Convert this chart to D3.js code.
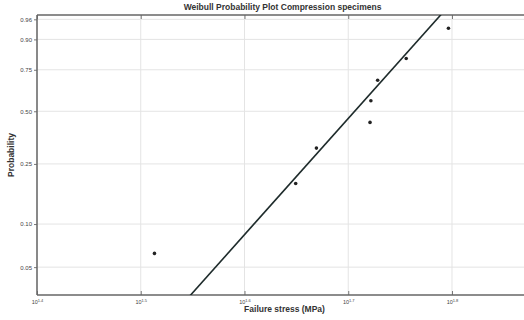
<!DOCTYPE html>
<html>
<head>
<meta charset="utf-8">
<script src="https://cdn.jsdelivr.net/npm/d3@7"></script>
<style>
  body { margin: 0; background: #fff; }
  svg { font-family: "Liberation Sans", Arial, sans-serif; }
</style>
</head>
<body>
<svg id="chart" width="524" height="320"></svg>
<script>
// measured failure stress (MPa) and plotting-position probabilities
const stress = [32.6, 44.6, 46.7, 52.6, 52.7, 53.5, 57.0, 62.6];
const probability = [0.0625, 0.1875, 0.3125, 0.4375, 0.5625, 0.6875, 0.8125, 0.9375];
const yTicks = [0.05, 0.10, 0.25, 0.50, 0.75, 0.90, 0.96];
const xTickExponents = [1.4, 1.5, 1.6, 1.7, 1.8];
// fitted Weibull line
const fitShape = 8.43;
const fitScale = 53.1;

const width = 524, height = 320;
const margin = { top: 15, right: 0, bottom: 25, left: 37 };
const svg = d3.select('#chart');

// weibull transform for the probability axis
const wb = p => Math.log(-Math.log(1 - p));

const x = d3.scaleLog()
  .domain([Math.pow(10, 1.4), Math.pow(10, 1.8694)])
  .range([margin.left, width - margin.right]);

const y = d3.scaleLinear()
  .domain([wb(0.0317), wb(0.9686)])
  .range([height - margin.bottom, margin.top]);

const plot = svg.append('g');

// grid
plot.append('g').selectAll('line')
  .data(xTickExponents)
  .enter().append('line')
  .attr('x1', d => x(Math.pow(10, d))).attr('x2', d => x(Math.pow(10, d)))
  .attr('y1', margin.top).attr('y2', height - margin.bottom)
  .attr('stroke', '#e4e4e4').attr('stroke-width', 1);

plot.append('g').selectAll('line')
  .data(yTicks)
  .enter().append('line')
  .attr('x1', margin.left).attr('x2', width)
  .attr('y1', d => y(wb(d))).attr('y2', d => y(wb(d)))
  .attr('stroke', '#e4e4e4').attr('stroke-width', 1);

// axes
const yAxis = d3.axisLeft(y)
  .tickValues(yTicks.map(wb))
  .tickFormat((d, i) => yTicks[i].toFixed(2))
  .tickSize(3);

const gy = svg.append('g')
  .attr('transform', `translate(${margin.left},0)`)
  .call(yAxis);
gy.select('.domain').remove();
gy.selectAll('.tick line').attr('stroke', '#777');
gy.selectAll('text').attr('font-size', 6).attr('fill', '#444').attr('x', -5);

const xAxis = d3.axisBottom(x)
  .tickValues(xTickExponents.map(e => Math.pow(10, e)))
  .tickFormat('')
  .tickSize(-4);

const gx = svg.append('g')
  .attr('transform', `translate(0,${height - margin.bottom})`)
  .call(xAxis);
gx.select('.domain').remove();
gx.selectAll('.tick line').attr('stroke', '#777');
gx.selectAll('.tick').append('text')
  .attr('y', 9).attr('text-anchor', 'middle').attr('fill', '#444')
  .attr('font-size', 5.5)
  .each(function (d, i) {
    const t = d3.select(this);
    t.append('tspan').text('10');
    t.append('tspan').attr('dy', -2.5).attr('font-size', 4).text(xTickExponents[i].toFixed(1));
  });

const gxTop = svg.append('g')
  .attr('transform', `translate(0,${margin.top})`)
  .call(d3.axisTop(x).tickValues(xTickExponents.map(e => Math.pow(10, e))).tickFormat('').tickSize(-4));
gxTop.select('.domain').remove();
gxTop.selectAll('.tick line').attr('stroke', '#777');

// frame lines
svg.append('line')
  .attr('x1', margin.left).attr('x2', width)
  .attr('y1', height - margin.bottom).attr('y2', height - margin.bottom)
  .attr('stroke', '#666').attr('stroke-width', 1.5);
svg.append('line')
  .attr('x1', margin.left).attr('x2', width)
  .attr('y1', margin.top).attr('y2', margin.top)
  .attr('stroke', '#666').attr('stroke-width', 1.5);
svg.append('line')
  .attr('x1', margin.left).attr('x2', margin.left)
  .attr('y1', margin.top).attr('y2', height - margin.bottom)
  .attr('stroke', '#666').attr('stroke-width', 1.5);

// fit line, clipped to the plot area
svg.append('clipPath').attr('id', 'clip')
  .append('rect')
  .attr('x', margin.left).attr('y', margin.top)
  .attr('width', width - margin.left - margin.right)
  .attr('height', height - margin.top - margin.bottom);

const fitX = x.domain();
const line = d3.line()
  .x(d => x(d))
  .y(d => y(fitShape * (Math.log(d) - Math.log(fitScale))));

svg.append('path')
  .datum(fitX)
  .attr('clip-path', 'url(#clip)')
  .attr('d', line)
  .attr('fill', 'none')
  .attr('stroke', '#1e2b2b')
  .attr('stroke-width', 1.6);

// data points
svg.append('g').selectAll('circle')
  .data(stress)
  .enter().append('circle')
  .attr('cx', d => x(d))
  .attr('cy', (d, i) => y(wb(probability[i])))
  .attr('r', 1.8)
  .attr('fill', '#222');

// labels
svg.append('text')
  .attr('x', (margin.left + width) / 2 + 2).attr('y', 10)
  .attr('text-anchor', 'middle').attr('font-size', 8.5).attr('font-weight', 'bold')
  .attr('fill', '#333')
  .text('Weibull Probability Plot Compression specimens');

svg.append('text')
  .attr('x', (margin.left + width) / 2 + 4).attr('y', 312)
  .attr('text-anchor', 'middle').attr('font-size', 8.5).attr('font-weight', 'bold')
  .attr('fill', '#333')
  .text('Failure stress (MPa)');

svg.append('text')
  .attr('transform', `translate(14,${(margin.top + height - margin.bottom) / 2}) rotate(-90)`)
  .attr('text-anchor', 'middle').attr('font-size', 8.5).attr('font-weight', 'bold')
  .attr('fill', '#333')
  .text('Probability');
</script>
</body>
</html>
